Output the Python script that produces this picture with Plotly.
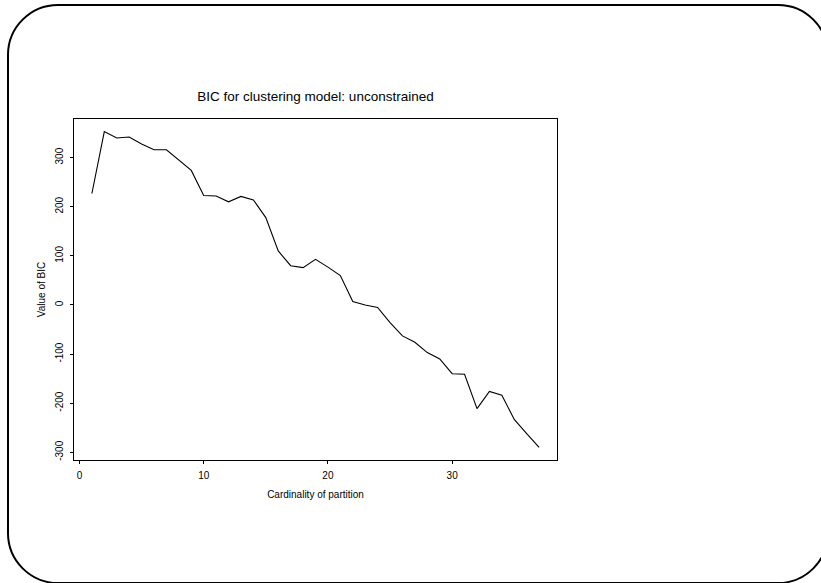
import plotly.graph_objects as go

# Data
cardinality = list(range(1, 38))
bic = [227, 353, 340, 342, 328, 316, 316, 295, 274, 223,
       222, 210, 221, 214, 178, 110, 80, 76, 93, 77,
       60, 7, 0, -5, -36, -63, -76, -97, -110, -140,
       -141, -211, -176, -184, -233, -262, -290]
x_ticks = [0, 10, 20, 30]
y_ticks = [-300, -200, -100, 0, 100, 200, 300]
y_tick_labels = [str(v) for v in y_ticks]  # plain hyphen-minus as in the reference

W, H = 821, 583
L, R, T, B = 74, 557, 119, 460  # plot area in pixels

def px(x, y):
    return (x - L) / (R - L), (B - y) / (B - T)

def rounded_rect(x0, y0, x1, y1, r):
    k = 0.5523 * r
    def P(x, y):
        a, b = px(x, y)
        return f"{a:.5f},{b:.5f}"
    d = f"M {P(x0 + r, y0)} L {P(x1 - r, y0)} "
    d += f"C {P(x1 - r + k, y0)} {P(x1, y0 + r - k)} {P(x1, y0 + r)} "
    d += f"L {P(x1, y1 - r)} "
    d += f"C {P(x1, y1 - r + k)} {P(x1 - r + k, y1)} {P(x1 - r, y1)} "
    d += f"L {P(x0 + r, y1)} "
    d += f"C {P(x0 + r - k, y1)} {P(x0, y1 - r + k)} {P(x0, y1 - r)} "
    d += f"L {P(x0, y0 + r)} "
    d += f"C {P(x0, y0 + r - k)} {P(x0 + r - k, y0)} {P(x0 + r, y0)} Z"
    return d

fig = go.Figure()
fig.add_trace(go.Scatter(x=cardinality, y=bic, mode="lines",
                         line=dict(color="black", width=1.1),
                         showlegend=False, hoverinfo="x+y"))

font = "Liberation Sans, Arial, Helvetica, sans-serif"
fig.update_layout(
    width=W, height=H,
    margin=dict(l=L, r=W - R, t=T, b=H - B, pad=0),
    paper_bgcolor="white", plot_bgcolor="white",
    font=dict(family=font, size=10, color="black"),
    title=dict(text="BIC for clustering model: unconstrained",
               x=(L + R) / 2 / W, xanchor="center",
               y=1 - 96 / H, yanchor="middle",
               font=dict(size=13.5, color="black", family=font)),
    xaxis=dict(range=[-0.44, 38.44], tickvals=x_ticks, ticks="outside",
               ticklen=3, tickwidth=1, tickcolor="black",
               showline=True, linecolor="black", linewidth=1, mirror=True,
               showgrid=False, zeroline=False, ticklabelstandoff=3,
               tickfont=dict(size=10),
               title=dict(text="Cardinality of partition", standoff=10,
                          font=dict(size=10))),
    yaxis=dict(range=[-315.7, 378.7], tickvals=y_ticks, ticktext=y_tick_labels,
               ticks="outside",
               ticklen=3, tickwidth=1, tickcolor="black",
               showline=True, linecolor="black", linewidth=1, mirror=True,
               showgrid=False, zeroline=False, tickangle=-90,
               ticklabelstandoff=3,
               tickfont=dict(size=10),
               title=dict(text="Value of BIC", standoff=6,
                          font=dict(size=10))),
    shapes=[dict(type="path", xref="paper", yref="paper",
                 path=rounded_rect(8, 5, 828, 583, 50),
                 line=dict(color="black", width=2),
                 fillcolor="rgba(0,0,0,0)", layer="above")],
)

fig.write_html("out.html")
